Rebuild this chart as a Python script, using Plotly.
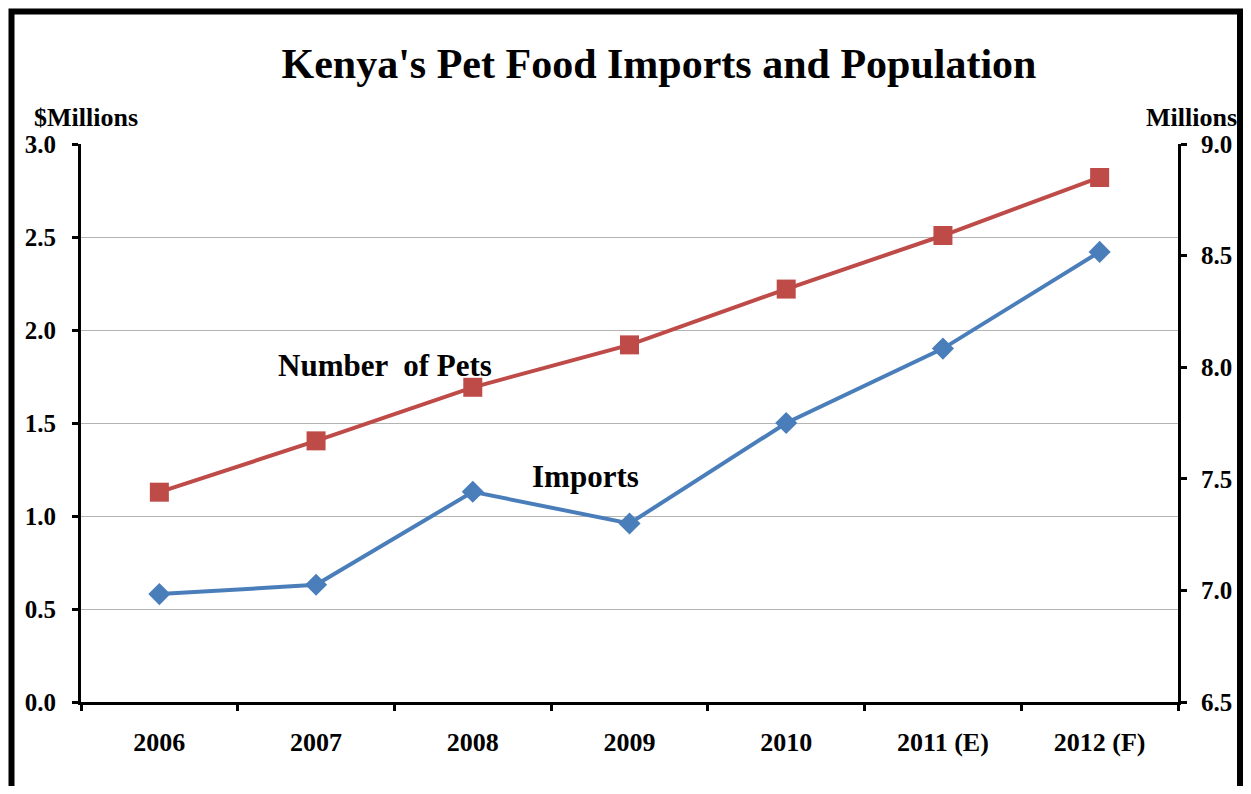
import plotly.graph_objects as go

years = ["2006", "2007", "2008", "2009", "2010", "2011 (E)", "2012 (F)"]
imports = [0.58, 0.63, 1.13, 0.96, 1.50, 1.90, 2.42]
pets = [7.44, 7.67, 7.91, 8.10, 8.35, 8.59, 8.85]
left_ticks = [0.0, 0.5, 1.0, 1.5, 2.0, 2.5, 3.0]
right_ticks = [6.5, 7.0, 7.5, 8.0, 8.5, 9.0]

FONT = "Liberation Serif"
BLUE = "#4A7EBB"
RED = "#BE4B48"

# page has an 8px body margin; figure is placed at (8, 8)
OFF = 8
W, H = 1251 - 2 * OFF, 794 - 2 * OFF
PL, PR, PT, PB = 81, 1178, 144, 702  # plot area in page pixels
PW, PH = PR - PL, PB - PT


def px(xp):
    return (xp - PL) / PW


def py(yp):
    return (PB - yp) / PH


fig = go.Figure()
fig.add_trace(go.Scatter(
    x=years, y=imports, name="Imports", mode="lines+markers",
    line=dict(color=BLUE, width=4),
    marker=dict(symbol="diamond", size=17, color=BLUE),
    yaxis="y", cliponaxis=False))
fig.add_trace(go.Scatter(
    x=years, y=pets, name="Number of Pets", mode="lines+markers",
    line=dict(color=RED, width=4),
    marker=dict(symbol="square", size=19, color=RED),
    yaxis="y2", cliponaxis=False))

fig.update_layout(
    width=W, height=H,
    margin=dict(l=PL - OFF, r=W - (PR - OFF), t=PT - OFF, b=H - (PB - OFF)),
    paper_bgcolor="white", plot_bgcolor="white",
    showlegend=False,
    font=dict(family=FONT, color="black", size=25),
    title=dict(text="<b>Kenya's Pet Food Imports and Population</b>",
               x=(659 - OFF) / W, xanchor="center", y=1 - (63 - OFF) / H, yanchor="middle",
               font=dict(family=FONT, size=42, color="black")),
    xaxis=dict(type="category", showline=True, linecolor="black", linewidth=3,
               ticks="outside", ticklen=6, tickwidth=3, tickcolor="black",
               tickson="boundaries", showgrid=False, zeroline=False,
               tickfont=dict(family=FONT, size=26, color="black"),
               tickprefix="<b>", ticksuffix="</b>", ticklabelstandoff=15,
               range=[-0.5, 6.5], automargin=False),
    yaxis=dict(range=[0, 3.0], tickvals=left_ticks,
               ticktext=[f"<b>{v:.1f}</b>" for v in left_ticks],
               showline=True, linecolor="black", linewidth=3,
               ticks="outside", ticklen=6, tickwidth=3, tickcolor="black",
               showgrid=True, gridcolor="#B4B4B4", gridwidth=1, zeroline=False,
               tickfont=dict(family=FONT, size=25, color="black"),
               ticklabelstandoff=11, automargin=False),
    yaxis2=dict(range=[6.5, 9.0], tickvals=right_ticks,
                ticktext=[f"<b>{v:.1f}</b>" for v in right_ticks],
                overlaying="y", side="right",
                showline=True, linecolor="black", linewidth=3,
                ticks="outside", ticklen=6, tickwidth=3, tickcolor="black",
                showgrid=False, zeroline=False,
                tickfont=dict(family=FONT, size=25, color="black"),
                ticklabelstandoff=9, automargin=False),
)

fig.add_annotation(text="<b>$Millions</b>", xref="paper", yref="paper",
                   x=px(86), y=py(117), showarrow=False,
                   xanchor="center", yanchor="middle",
                   font=dict(family=FONT, size=26, color="black"))
fig.add_annotation(text="<b>Millions</b>", xref="paper", yref="paper",
                   x=px(1191), y=py(117), showarrow=False,
                   xanchor="center", yanchor="middle",
                   font=dict(family=FONT, size=26, color="black"))
fig.add_annotation(text="<b>Number  of Pets</b>", xref="paper", yref="paper",
                   x=px(385), y=py(365), showarrow=False,
                   xanchor="center", yanchor="middle",
                   font=dict(family=FONT, size=31, color="black"))
fig.add_annotation(text="<b>Imports</b>", xref="paper", yref="paper",
                   x=px(585), y=py(476), showarrow=False,
                   xanchor="center", yanchor="middle",
                   font=dict(family=FONT, size=31, color="black"))

# outer frame
fig.add_shape(type="rect", xref="paper", yref="paper",
              x0=px(11.5), x1=px(1240), y0=py(830), y1=py(11.5),
              line=dict(color="black", width=6), fillcolor="rgba(0,0,0,0)",
              layer="above")

fig.write_html("out.html")
